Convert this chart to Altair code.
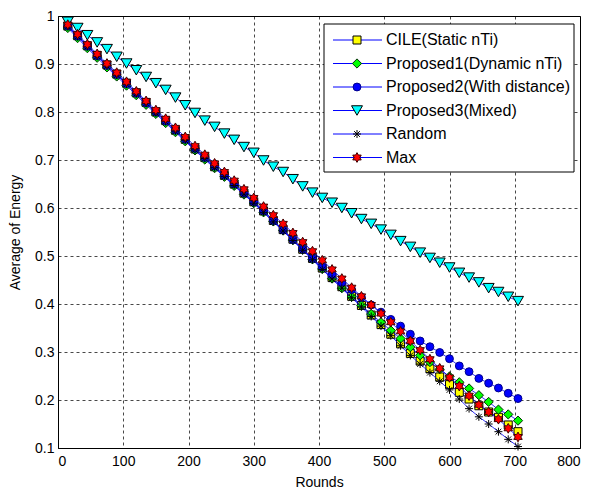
import altair as alt
import pandas as pd

rounds = [15, 30, 45, 60, 75, 90, 105, 120, 135, 150, 165, 180, 195, 210, 225, 240,
          255, 270, 285, 300, 315, 330, 345, 360, 375, 390, 405, 420, 435, 450, 465,
          480, 495, 510, 525, 540, 555, 570, 585, 600, 615, 630, 645, 660, 675, 690, 705]

cile = [0.979, 0.959, 0.938, 0.918, 0.898, 0.879, 0.860, 0.840, 0.820, 0.800, 0.782, 0.762,
        0.743, 0.723, 0.705, 0.686, 0.668, 0.650, 0.631, 0.613, 0.594, 0.574, 0.555, 0.535,
        0.514, 0.495, 0.475, 0.455, 0.436, 0.416, 0.397, 0.377, 0.357, 0.337, 0.317, 0.297,
        0.281, 0.265, 0.248, 0.232, 0.216, 0.202, 0.188, 0.175, 0.164, 0.148, 0.134]

proposed1 = [0.975, 0.954, 0.933, 0.913, 0.893, 0.874, 0.855, 0.835, 0.815, 0.796, 0.777, 0.758,
             0.739, 0.720, 0.701, 0.683, 0.665, 0.646, 0.628, 0.610, 0.591, 0.572, 0.553, 0.533,
             0.513, 0.493, 0.473, 0.453, 0.433, 0.415, 0.397, 0.379, 0.362, 0.345, 0.328, 0.310,
             0.293, 0.279, 0.264, 0.249, 0.237, 0.224, 0.210, 0.196, 0.180, 0.170, 0.157]

proposed2 = [0.979, 0.958, 0.937, 0.917, 0.897, 0.878, 0.859, 0.839, 0.819, 0.800, 0.781, 0.762,
             0.743, 0.724, 0.705, 0.687, 0.668, 0.650, 0.631, 0.613, 0.594, 0.574, 0.554, 0.534,
             0.514, 0.495, 0.477, 0.461, 0.445, 0.430, 0.414, 0.398, 0.383, 0.368, 0.354, 0.337,
             0.323, 0.311, 0.299, 0.286, 0.271, 0.259, 0.245, 0.235, 0.225, 0.214, 0.203]

proposed3 = [0.988, 0.975, 0.960, 0.945, 0.931, 0.915, 0.901, 0.887, 0.873, 0.860, 0.846, 0.830,
             0.814, 0.798, 0.782, 0.769, 0.755, 0.742, 0.727, 0.715, 0.699, 0.686, 0.675, 0.660,
             0.645, 0.632, 0.621, 0.611, 0.600, 0.589, 0.577, 0.567, 0.555, 0.544, 0.531, 0.519,
             0.507, 0.496, 0.486, 0.476, 0.465, 0.455, 0.445, 0.433, 0.425, 0.415, 0.406]

random_ = [0.978, 0.957, 0.936, 0.916, 0.896, 0.877, 0.858, 0.838, 0.818, 0.798, 0.780, 0.760,
           0.741, 0.721, 0.703, 0.684, 0.666, 0.647, 0.629, 0.610, 0.591, 0.571, 0.552, 0.532,
           0.512, 0.492, 0.472, 0.452, 0.433, 0.413, 0.394, 0.374, 0.354, 0.334, 0.313, 0.293,
           0.275, 0.257, 0.239, 0.221, 0.202, 0.182, 0.165, 0.150, 0.134, 0.118, 0.103]

max_ = [0.982, 0.962, 0.941, 0.921, 0.901, 0.882, 0.863, 0.843, 0.823, 0.804, 0.786, 0.767,
        0.748, 0.729, 0.711, 0.693, 0.675, 0.657, 0.639, 0.621, 0.603, 0.585, 0.567, 0.548,
        0.529, 0.510, 0.491, 0.472, 0.453, 0.434, 0.416, 0.398, 0.380, 0.362, 0.343, 0.323,
        0.304, 0.285, 0.266, 0.247, 0.229, 0.209, 0.190, 0.175, 0.160, 0.141, 0.123]

names = ["CILE(Static nTi)", "Proposed1(Dynamic nTi)", "Proposed2(With distance)",
         "Proposed3(Mixed)", "Random", "Max"]
series_values = [cile, proposed1, proposed2, proposed3, random_, max_]

x_ticks = [0, 100, 200, 300, 400, 500, 600, 700, 800]
y_ticks = [0.1, 0.2, 0.3, 0.4, 0.5, 0.6, 0.7, 0.8, 0.9, 1.0]

HEX = ("M0,-1L0.289,-0.5L0.866,-0.5L0.577,0L0.866,0.5L0.289,0.5L0,1L-0.289,0.5"
       "L-0.866,0.5L-0.577,0L-0.866,-0.5L-0.289,-0.5Z")
AST = "M-1,0L1,0M0,-1L0,1M-0.72,-0.72L0.72,0.72M-0.72,0.72L0.72,-0.72"

styles = {
    names[0]: dict(shape="square", size=64, fill="#ffff00", stroke="#000000"),
    names[1]: dict(shape="diamond", size=85, fill="#00ff00", stroke="#003300"),
    names[2]: dict(shape="circle", size=62, fill="#0000ff", stroke="#00008b"),
    names[3]: dict(shape="triangle-down", size=120, fill="#00ffff", stroke="#000000"),
    names[4]: dict(shape=AST, size=64, fill="transparent", stroke="#000000"),
    names[5]: dict(shape=HEX, size=95, fill="#ff0000", stroke="#400000"),
}

rows = []
for name, vals in zip(names, series_values):
    for r, v in zip(rounds, vals):
        rows.append({"series": name, "round": r, "energy": v})
df = pd.DataFrame(rows)

FONT = "Liberation Sans"

xenc = alt.X("round:Q", scale=alt.Scale(domain=[0, 800], nice=False),
             axis=alt.Axis(values=x_ticks, title="Rounds", grid=True, ticks=False,
                           labelFontSize=14, titleFontSize=14, labelPadding=6,
                           titlePadding=7, titleFontWeight="normal"))
yenc = alt.Y("energy:Q", scale=alt.Scale(domain=[0.1, 1.0], nice=False, zero=False),
             axis=alt.Axis(values=y_ticks, format=".1~f", title="Average of Energy",
                           grid=True, ticks=False, labelFontSize=14, titleFontSize=14,
                           labelPadding=4, titlePadding=12, titleFontWeight="normal"))

main_layers = []
for name in names:
    st = styles[name]
    sub = alt.Chart(df).transform_filter(alt.datum.series == name)
    main_layers.append(
        sub.mark_line(color="#0000ff", strokeWidth=0.8).encode(x=xenc, y=yenc)
    )
    main_layers.append(
        sub.mark_point(shape=st["shape"], size=st["size"], fill=st["fill"],
                       stroke=st["stroke"], strokeWidth=1, opacity=1, filled=False,
                       fillOpacity=1).encode(x=xenc, y=yenc)
    )
main = alt.layer(*main_layers)

leg_df = pd.DataFrame({"series": names})
leg_y = alt.Y("series:N", scale=alt.Scale(type="point", domain=names, range=[24, 141.5],
                                         padding=0), axis=None)

box = alt.Chart(pd.DataFrame({"k": [0]})).mark_rect(
    fill="white", stroke="black", strokeWidth=1
).encode(x=alt.value(266), x2=alt.value(516), y=alt.value(8), y2=alt.value(156))

leg_lines = alt.Chart(leg_df).mark_rule(color="#0000ff", strokeWidth=1).encode(
    x=alt.value(275), x2=alt.value(324), y=leg_y)
leg_text = alt.Chart(leg_df).mark_text(align="left", baseline="middle", fontSize=16,
                                       font=FONT, color="black").encode(
    x=alt.value(328), y=leg_y, text="series:N")

leg_marks = []
for name in names:
    st = styles[name]
    leg_marks.append(
        alt.Chart(leg_df).transform_filter(alt.datum.series == name).mark_point(
            shape=st["shape"], size=st["size"], fill=st["fill"], stroke=st["stroke"],
            strokeWidth=1, opacity=1, filled=False, fillOpacity=1
        ).encode(x=alt.value(299), y=leg_y)
    )

legend = alt.layer(box, leg_lines, *leg_marks, leg_text)

chart = alt.layer(main, legend).resolve_scale(y="independent").properties(
    width=522, height=432,
    padding={"left": 50, "top": 8, "right": 5, "bottom": 46},
    autosize=alt.AutoSizeParams(type="none"),
).configure_view(stroke="black", strokeWidth=1).configure_axis(
    labelFont=FONT, titleFont=FONT, labelColor="black", titleColor="black",
    domainColor="black", domainWidth=1, gridColor="black", gridDash=[3, 3],
    gridWidth=0.8, gridOpacity=0.9
)

chart.save("out.html", embed_options={"renderer": "svg", "actions": False})
